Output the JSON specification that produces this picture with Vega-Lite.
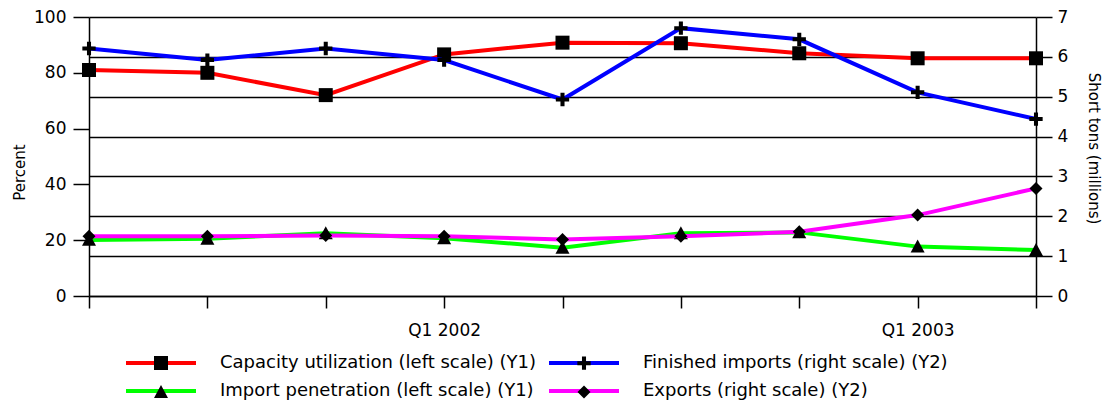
{
  "$schema": "https://vega.github.io/schema/vega-lite/v6.json",
  "width": 947,
  "height": 279,
  "autosize": {"type": "none"},
  "padding": {"left": 89, "top": 17, "right": 68, "bottom": 106},
  "background": "white",
  "config": {
    "view": {"stroke": null},
    "font": "DejaVu Sans",
    "axis": {
      "domainColor": "black", "domainWidth": 1.5,
      "tickColor": "black", "tickWidth": 1.5,
      "labelColor": "black", "labelFont": "DejaVu Sans", "labelFontSize": 17,
      "titleColor": "black", "titleFont": "DejaVu Sans", "titleFontSize": 15, "titleFontWeight": "normal"
    }
  },
  "data": {"values": [
    {"q": "Q2 2001", "series": "Capacity utilization (left scale) (Y1)", "key": "Capacity", "axis": "L", "value": 81.0},
    {"q": "Q3 2001", "series": "Capacity utilization (left scale) (Y1)", "key": "Capacity", "axis": "L", "value": 80.0},
    {"q": "Q4 2001", "series": "Capacity utilization (left scale) (Y1)", "key": "Capacity", "axis": "L", "value": 72.0},
    {"q": "Q1 2002", "series": "Capacity utilization (left scale) (Y1)", "key": "Capacity", "axis": "L", "value": 86.6},
    {"q": "Q2 2002", "series": "Capacity utilization (left scale) (Y1)", "key": "Capacity", "axis": "L", "value": 90.8},
    {"q": "Q3 2002", "series": "Capacity utilization (left scale) (Y1)", "key": "Capacity", "axis": "L", "value": 90.6},
    {"q": "Q4 2002", "series": "Capacity utilization (left scale) (Y1)", "key": "Capacity", "axis": "L", "value": 87.0},
    {"q": "Q1 2003", "series": "Capacity utilization (left scale) (Y1)", "key": "Capacity", "axis": "L", "value": 85.2},
    {"q": "Q2 2003", "series": "Capacity utilization (left scale) (Y1)", "key": "Capacity", "axis": "L", "value": 85.2},
    {"q": "Q2 2001", "series": "Finished imports (right scale) (Y2)", "key": "Finished", "axis": "R", "value": 6.21},
    {"q": "Q3 2001", "series": "Finished imports (right scale) (Y2)", "key": "Finished", "axis": "R", "value": 5.92},
    {"q": "Q4 2001", "series": "Finished imports (right scale) (Y2)", "key": "Finished", "axis": "R", "value": 6.21},
    {"q": "Q1 2002", "series": "Finished imports (right scale) (Y2)", "key": "Finished", "axis": "R", "value": 5.92},
    {"q": "Q2 2002", "series": "Finished imports (right scale) (Y2)", "key": "Finished", "axis": "R", "value": 4.93},
    {"q": "Q3 2002", "series": "Finished imports (right scale) (Y2)", "key": "Finished", "axis": "R", "value": 6.72},
    {"q": "Q4 2002", "series": "Finished imports (right scale) (Y2)", "key": "Finished", "axis": "R", "value": 6.44},
    {"q": "Q1 2003", "series": "Finished imports (right scale) (Y2)", "key": "Finished", "axis": "R", "value": 5.11},
    {"q": "Q2 2003", "series": "Finished imports (right scale) (Y2)", "key": "Finished", "axis": "R", "value": 4.44},
    {"q": "Q2 2001", "series": "Import penetration  (left scale) (Y1)", "key": "Penetration", "axis": "L", "value": 20.1},
    {"q": "Q3 2001", "series": "Import penetration  (left scale) (Y1)", "key": "Penetration", "axis": "L", "value": 20.5},
    {"q": "Q4 2001", "series": "Import penetration  (left scale) (Y1)", "key": "Penetration", "axis": "L", "value": 22.5},
    {"q": "Q1 2002", "series": "Import penetration  (left scale) (Y1)", "key": "Penetration", "axis": "L", "value": 20.7},
    {"q": "Q2 2002", "series": "Import penetration  (left scale) (Y1)", "key": "Penetration", "axis": "L", "value": 17.3},
    {"q": "Q3 2002", "series": "Import penetration  (left scale) (Y1)", "key": "Penetration", "axis": "L", "value": 22.5},
    {"q": "Q4 2002", "series": "Import penetration  (left scale) (Y1)", "key": "Penetration", "axis": "L", "value": 22.8},
    {"q": "Q1 2003", "series": "Import penetration  (left scale) (Y1)", "key": "Penetration", "axis": "L", "value": 17.7},
    {"q": "Q2 2003", "series": "Import penetration  (left scale) (Y1)", "key": "Penetration", "axis": "L", "value": 16.5},
    {"q": "Q2 2001", "series": "Exports (right scale) (Y2)", "key": "Exports", "axis": "R", "value": 1.50},
    {"q": "Q3 2001", "series": "Exports (right scale) (Y2)", "key": "Exports", "axis": "R", "value": 1.50},
    {"q": "Q4 2001", "series": "Exports (right scale) (Y2)", "key": "Exports", "axis": "R", "value": 1.52},
    {"q": "Q1 2002", "series": "Exports (right scale) (Y2)", "key": "Exports", "axis": "R", "value": 1.50},
    {"q": "Q2 2002", "series": "Exports (right scale) (Y2)", "key": "Exports", "axis": "R", "value": 1.42},
    {"q": "Q3 2002", "series": "Exports (right scale) (Y2)", "key": "Exports", "axis": "R", "value": 1.50},
    {"q": "Q4 2002", "series": "Exports (right scale) (Y2)", "key": "Exports", "axis": "R", "value": 1.61},
    {"q": "Q1 2003", "series": "Exports (right scale) (Y2)", "key": "Exports", "axis": "R", "value": 2.03},
    {"q": "Q2 2003", "series": "Exports (right scale) (Y2)", "key": "Exports", "axis": "R", "value": 2.70}
  ]},
  "encoding": {
    "x": {
      "field": "q", "type": "ordinal", "sort": null,
      "scale": {"type": "point", "padding": 0},
      "axis": {
        "title": null, "labelAngle": 0, "tickSize": 12, "labelPadding": 14,
        "labelExpr": "datum.label == 'Q1 2002' || datum.label == 'Q1 2003' ? datum.label : ''",
        "grid": false
      }
    }
  },
  "layer": [
    {
      "transform": [{"filter": "datum.axis == 'L'"}],
      "encoding": {
        "y": {
          "field": "value", "type": "quantitative",
          "scale": {"domain": [0, 100], "nice": false, "zero": true},
          "axis": {
            "values": [0, 20, 40, 60, 80, 100], "grid": false, "tickSize": 16, "labelPadding": 7,
            "title": "Percent", "titleX": -62, "titleY": 155
          }
        }
      },
      "layer": [
        {
          "mark": {"type": "line", "strokeWidth": 4},
          "encoding": {
            "stroke": {
              "field": "series", "type": "nominal",
              "scale": {
                "domain": ["Capacity utilization (left scale) (Y1)", "Import penetration  (left scale) (Y1)", "Finished imports (right scale) (Y2)", "Exports (right scale) (Y2)"],
                "range": ["#ff0000", "#00ff00", "#0000ff", "#ff00ff"]
              },
              "legend": {
                "orient": "none", "legendX": 63, "legendY": 337, "columns": 2, "title": null,
                "padding": 0, "rowPadding": 10, "columnPadding": 1,
                "symbolType": "M-5,0H5", "symbolSize": 196, "symbolStrokeWidth": 4,
                "labelFont": "DejaVu Sans", "labelFontSize": 18, "labelColor": "black",
                "labelOffset": 50, "labelLimit": 500, "zindex": 1
              }
            }
          }
        },
        {
          "mark": {"type": "point", "filled": true, "fill": "black", "strokeWidth": 0, "size": 196, "opacity": 1},
          "encoding": {
            "shape": {
              "field": "key", "type": "nominal",
              "scale": {
                "domain": ["Capacity", "Penetration", "Finished", "Exports"],
                "range": [
                  "M-1,-1H1V1H-1Z",
                  "M0,-1L1,0.85H-1Z",
                  "M-0.29,-0.95H0.29V-0.29H0.95V0.29H0.29V0.95H-0.29V0.29H-0.95V-0.29H-0.29Z",
                  "M0,-0.93L0.93,0L0,0.93L-0.93,0Z"
                ]
              },
              "legend": {
                "orient": "none", "legendX": 63, "legendY": 337, "columns": 2, "title": null,
                "padding": 0, "rowPadding": -1, "columnPadding": 29,
                "symbolSize": 196, "symbolStrokeWidth": 4,
                "symbolFillColor": "black", "symbolStrokeColor": "transparent",
                "labelFont": "DejaVu Sans", "labelFontSize": 18, "labelOpacity": 0,
                "labelOffset": 50, "labelLimit": 500, "zindex": 2,
                "labelExpr": "datum.label == 'Capacity' ? 'Capacity utilization (left scale) (Y1)' : datum.label == 'Finished' ? 'Finished imports (right scale) (Y2)' : datum.label == 'Penetration' ? 'Import penetration  (left scale) (Y1)' : 'Exports (right scale) (Y2)'"
              }
            }
          }
        }
      ]
    },
    {
      "transform": [{"filter": "datum.axis == 'R'"}],
      "encoding": {
        "y": {
          "field": "value", "type": "quantitative",
          "scale": {"domain": [0, 7], "nice": false, "zero": true},
          "axis": {
            "orient": "right", "values": [0, 1, 2, 3, 4, 5, 6, 7], "grid": true,
            "gridColor": "black", "gridWidth": 1.5, "gridOpacity": 1,
            "tickSize": 16, "labelPadding": 5,
            "title": "Short tons (millions)", "titleX": 49, "titleY": 131
          }
        }
      },
      "layer": [
        {"mark": {"type": "line", "strokeWidth": 4}, "encoding": {"stroke": {"field": "series", "type": "nominal"}}},
        {
          "mark": {"type": "point", "filled": true, "fill": "black", "strokeWidth": 0, "size": 196, "opacity": 1},
          "encoding": {"shape": {"field": "key", "type": "nominal"}}
        }
      ]
    }
  ],
  "resolve": {"scale": {"y": "independent"}}
}
